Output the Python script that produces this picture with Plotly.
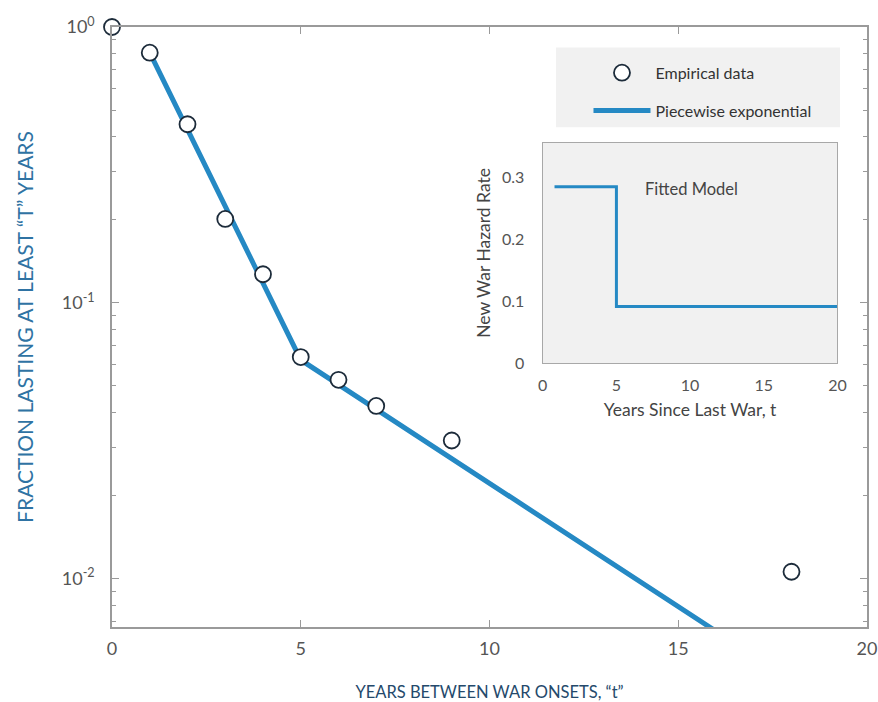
import plotly.graph_objects as go

# ---------------- data ----------------
emp_t = [0, 1, 2, 3, 4, 5, 6, 7, 9, 18]
emp_frac = [1.0, 0.807, 0.444, 0.2015, 0.127, 0.0636, 0.0526, 0.0423, 0.0317, 0.0106]

fit_t = [1, 5, 16]
fit_frac = [0.807, 0.0621, 0.00645]

haz_t = [0.8, 5, 5, 20]
haz_rate = [0.284, 0.284, 0.091, 0.091]

main_xticks = [0, 5, 10, 15, 20]
main_yticks = [0.01, 0.1, 1]
main_yticktext = ["10<sup>-2</sup>", "10<sup>-1</sup>", "10<sup>0</sup>"]
inset_xticks = [0, 5, 10, 15, 20]
inset_yticks = [0, 0.1, 0.2, 0.3]
inset_yticktext = ["0", "0.1", "0.2", "0.3"]

BLUE = "#2589c4"
FONT = "Lato"

minor_vals = [d * 10 ** e for e in (-3, -2, -1) for d in range(2, 10)]

fig = go.Figure()

fig.add_trace(go.Scatter(
    x=fit_t, y=fit_frac, mode="lines", name="Piecewise exponential",
    line=dict(color=BLUE, width=5), legendrank=2, legendgroup="b",
    xaxis="x", yaxis="y"))
fig.add_trace(go.Scatter(
    x=emp_t, y=emp_frac, mode="markers", name="Empirical data",
    marker=dict(symbol="circle", size=16, color="white",
                line=dict(color="#1c2b3a", width=1.8)),
    cliponaxis=False, legendrank=1, legendgroup="a",
    xaxis="x", yaxis="y"))
fig.add_trace(go.Scatter(
    x=haz_t, y=haz_rate, mode="lines", showlegend=False,
    line=dict(color=BLUE, width=3), xaxis="x2", yaxis="y2"))

fig.update_layout(
    width=878, height=702,
    margin=dict(l=112, r=11, t=27, b=75),
    paper_bgcolor="white", plot_bgcolor="rgba(0,0,0,0)",
    font=dict(family=FONT, color="#555555"),
    showlegend=True,
    legend=dict(x=0.6311, xanchor="left", y=0.952, yanchor="top",
                bgcolor="rgba(0,0,0,0)", borderwidth=0,
                font=dict(family=FONT, size=16, color="#333333"),
                traceorder="grouped", tracegroupgap=14, itemwidth=57),
    xaxis=dict(
        domain=[0, 1], range=[0, 20], tickvals=main_xticks, automargin=False,
        showline=True, linecolor="#9a9a9a", linewidth=1.5, mirror="ticks",
        ticks="inside", ticklen=7, tickcolor="#9a9a9a", showgrid=False,
        zeroline=False, tickfont=dict(size=18, color="#555555"),
        ticklabelstandoff=5, ticklabeloverflow="allow",
        title=dict(text="YEARS BETWEEN WAR ONSETS, “t”",
                   font=dict(size=16.5, color="#24496b"), standoff=30)),
    yaxis=dict(
        domain=[0, 1], type="log", range=[-2.175, 0.0], automargin=False,
        tickvals=main_yticks, ticktext=main_yticktext,
        showline=True, linecolor="#9a9a9a", linewidth=1.5, mirror="ticks",
        ticks="inside", ticklen=7, tickcolor="#9a9a9a", showgrid=False,
        zeroline=False, tickfont=dict(size=18, color="#555555"),
        ticklabelstandoff=12, ticklabeloverflow="allow",
        minor=dict(tickvals=minor_vals, ticks="inside", ticklen=4,
                   tickcolor="#9a9a9a", showgrid=False),
        title=dict(text="FRACTION LASTING AT LEAST “T” YEARS",
                   font=dict(size=21, color="#2f73a3"), standoff=22)),
    xaxis2=dict(
        domain=[0.5705, 0.9609], anchor="y2", range=[0, 20], automargin=False,
        tickvals=inset_xticks, showline=True, linecolor="#a8a8a8",
        linewidth=1.3, mirror=True, ticks="", showgrid=False, zeroline=False,
        tickfont=dict(size=16, color="#555555"), ticklabelstandoff=8,
        title=dict(text="Years Since Last War, t",
                   font=dict(size=17.5, color="#444444"), standoff=10)),
    yaxis2=dict(
        domain=[0.44, 0.807], anchor="x2", range=[0, 0.355], automargin=False,
        tickvals=inset_yticks, ticktext=inset_yticktext,
        showline=True, linecolor="#a8a8a8", linewidth=1.3, mirror=True,
        ticks="", showgrid=False, zeroline=False,
        tickfont=dict(size=16, color="#555555"), ticklabelstandoff=14,
        title=dict(text="New War Hazard Rate",
                   font=dict(size=17.5, color="#444444"), standoff=6)),
    shapes=[
        dict(type="rect", xref="paper", yref="paper",
             x0=0.588, x1=0.9642, y0=0.833, y1=0.966,
             fillcolor="#f1f1f1", line=dict(width=0), layer="below"),
        dict(type="rect", xref="x2 domain", yref="y2 domain",
             x0=0, x1=1, y0=0, y1=1,
             fillcolor="#f1f1f1", line=dict(width=0), layer="below"),
    ],
    annotations=[
        dict(text="Fitted Model", xref="x2", yref="y2", x=6.8, y=0.28,
             xanchor="left", yanchor="middle", showarrow=False,
             font=dict(family=FONT, size=16.5, color="#444444")),
    ],
)

fig.write_html("out.html")
